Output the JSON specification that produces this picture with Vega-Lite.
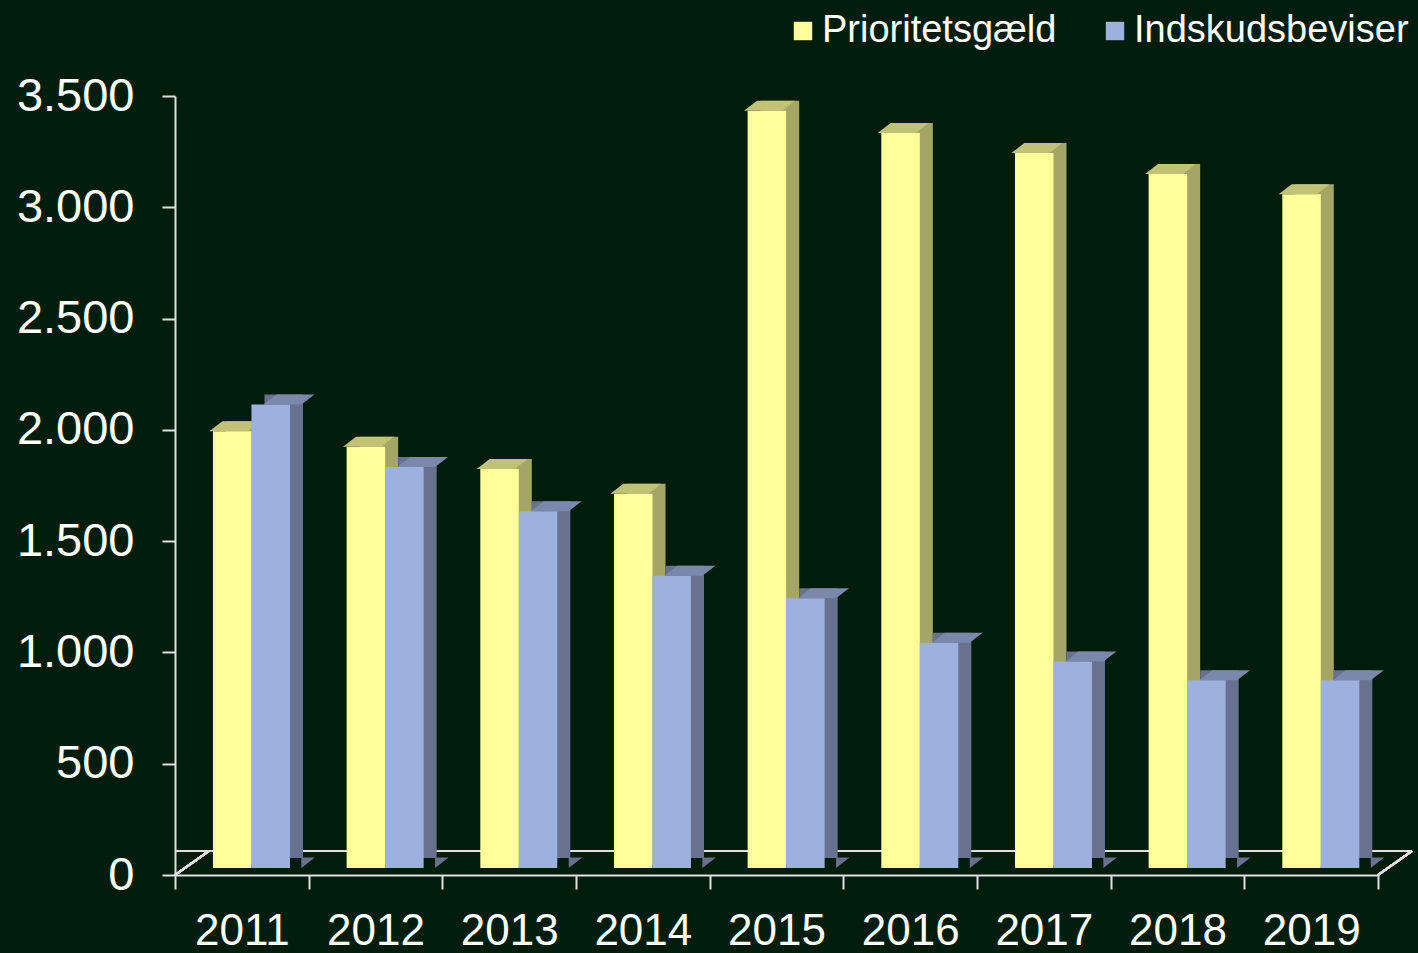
{
  "$schema": "https://vega.github.io/schema/vega-lite/v6.json",
  "width": 1203,
  "height": 779,
  "autosize": {"type": "none"},
  "padding": {"left": 175, "top": 96, "right": 40, "bottom": 78},
  "background": "#001d0b",
  "config": {
    "view": {"stroke": null},
    "font": "Liberation Sans"
  },
  "data": {
    "values": [
      {"year": "2011", "series": "Prioritetsgæld", "value": 1962},
      {"year": "2011", "series": "Indskudsbeviser", "value": 2082},
      {"year": "2012", "series": "Prioritetsgæld", "value": 1893},
      {"year": "2012", "series": "Indskudsbeviser", "value": 1802},
      {"year": "2013", "series": "Prioritetsgæld", "value": 1793},
      {"year": "2013", "series": "Indskudsbeviser", "value": 1603},
      {"year": "2014", "series": "Prioritetsgæld", "value": 1682},
      {"year": "2014", "series": "Indskudsbeviser", "value": 1313},
      {"year": "2015", "series": "Prioritetsgæld", "value": 3402},
      {"year": "2015", "series": "Indskudsbeviser", "value": 1212},
      {"year": "2016", "series": "Prioritetsgæld", "value": 3302},
      {"year": "2016", "series": "Indskudsbeviser", "value": 1012},
      {"year": "2017", "series": "Prioritetsgæld", "value": 3212},
      {"year": "2017", "series": "Indskudsbeviser", "value": 928},
      {"year": "2018", "series": "Prioritetsgæld", "value": 3118},
      {"year": "2018", "series": "Indskudsbeviser", "value": 843},
      {"year": "2019", "series": "Prioritetsgæld", "value": 3027},
      {"year": "2019", "series": "Indskudsbeviser", "value": 843}
    ]
  },
  "resolve": {"scale": {"xOffset": "independent"}},
  "encoding": {
    "x": {
      "field": "year", "type": "nominal",
      "scale": {"paddingInner": 0, "paddingOuter": 0},
      "axis": {
        "title": null, "labelAngle": 0, "labelFontSize": 44, "labelColor": "#ffffff",
        "labelPadding": 20, "domainColor": "#e0e0e0", "domainWidth": 2,
        "tickColor": "#e0e0e0", "tickWidth": 2, "tickSize": 14, "tickBand": "extent",
        "grid": false
      }
    },
    "y": {
      "field": "value", "type": "quantitative",
      "scale": {"domain": [0, 3500], "nice": false},
      "axis": {
        "title": null, "values": [0, 500, 1000, 1500, 2000, 2500, 3000, 3500],
        "labelExpr": "replace(format(datum.value, ','), ',', '.')",
        "labelFontSize": 47, "labelColor": "#ffffff", "labelPadding": 28,
        "domainColor": "#e0e0e0", "domainWidth": 2, "tickColor": "#e0e0e0",
        "tickWidth": 2, "tickSize": 13, "grid": false
      }
    }
  },
  "layer": [
    {
      "mark": {"type": "rule", "color": "#e0e0e0", "strokeWidth": 2, "xOffset": 34, "x2Offset": 34, "yOffset": -24},
      "encoding": {"x": null, "y": {"datum": 0, "type": "quantitative"}}
    },
    {
      "mark": {"type": "point", "shape": "M0,0L34,-24", "size": 4, "filled": false, "stroke": "#e0e0e0", "strokeWidth": 2, "opacity": 1},
      "encoding": {"x": {"datum": "2011", "bandPosition": 0}, "y": {"datum": 0, "type": "quantitative"}}
    },
    {
      "mark": {"type": "point", "shape": "M0,0L34,-24", "size": 4, "filled": false, "stroke": "#e0e0e0", "strokeWidth": 2, "opacity": 1},
      "encoding": {"x": {"datum": "2019", "bandPosition": 1}, "y": {"datum": 0, "type": "quantitative"}}
    },
    {
      "transform": [{"filter": "datum.series === 'Prioritetsgæld'"}],
      "mark": {"type": "bar", "color": "#a5a565", "yOffset": -17, "y2Offset": -17},
      "encoding": {
        "xOffset": {"field": "series", "scale": {"domain": ["Prioritetsgæld", "Indskudsbeviser"], "paddingInner": 0, "paddingOuter": 0.736, "align": 0.9}}
      }
    },
    {
      "transform": [{"filter": "datum.series === 'Prioritetsgæld'"}],
      "mark": {"type": "point", "shape": "M19,0L19,-10.5L32.5,-10.5Z", "size": 4, "filled": true, "color": "#a5a565", "opacity": 1, "yOffset": -7},
      "encoding": {
        "y": {"datum": 0, "type": "quantitative"},
        "xOffset": {"field": "series", "scale": {"domain": ["Prioritetsgæld", "Indskudsbeviser"], "paddingInner": 0, "paddingOuter": 0.736, "align": 0.67}}
      }
    },
    {
      "transform": [{"filter": "datum.series === 'Prioritetsgæld'"}],
      "mark": {"type": "bar", "yOffset": -7, "y2Offset": -7, "opacity": 1},
      "encoding": {
        "xOffset": {"field": "series", "scale": {"domain": ["Prioritetsgæld", "Indskudsbeviser"], "paddingInner": 0, "paddingOuter": 0.736, "align": 0.67}},
        "color": {
          "field": "series", "type": "nominal",
          "scale": {"domain": ["Prioritetsgæld", "Indskudsbeviser"], "range": ["#ffff99", "#9cb1de"]},
          "legend": {
            "title": null, "orient": "none", "legendX": 609, "legendY": -84,
            "direction": "horizontal", "symbolType": "square", "symbolSize": 340,
            "symbolStrokeWidth": 0, "symbolOpacity": 1, "labelLimit": 0,
            "labelFontSize": 38, "labelColor": "#ffffff", "labelOffset": 0,
            "columnPadding": 39, "padding": 0
          }
        }
      }
    },
    {
      "transform": [{"filter": "datum.series === 'Prioritetsgæld'"}],
      "mark": {"type": "point", "shape": "M-19,0L19,0L32,-10L-6,-10Z", "size": 4, "filled": true, "color": "#c2c274", "opacity": 1, "yOffset": -7},
      "encoding": {"xOffset": {"field": "series", "scale": {"domain": ["Prioritetsgæld", "Indskudsbeviser"], "paddingInner": 0, "paddingOuter": 0.736, "align": 0.67}}}
    },
    {
      "transform": [{"filter": "datum.series === 'Indskudsbeviser'"}],
      "mark": {"type": "bar", "color": "#68718f", "yOffset": -17, "y2Offset": -17},
      "encoding": {"xOffset": {"field": "series", "scale": {"domain": ["Prioritetsgæld", "Indskudsbeviser"], "paddingInner": 0, "paddingOuter": 0.736, "align": 0.9}}}
    },
    {
      "transform": [{"filter": "datum.series === 'Indskudsbeviser'"}],
      "mark": {"type": "point", "shape": "M19,0L19,-10.5L32.5,-10.5Z", "size": 4, "filled": true, "color": "#68718f", "opacity": 1, "yOffset": -7},
      "encoding": {
        "y": {"datum": 0, "type": "quantitative"},
        "xOffset": {"field": "series", "scale": {"domain": ["Prioritetsgæld", "Indskudsbeviser"], "paddingInner": 0, "paddingOuter": 0.736, "align": 0.67}}
      }
    },
    {
      "transform": [{"filter": "datum.series === 'Indskudsbeviser'"}],
      "mark": {"type": "bar", "yOffset": -7, "y2Offset": -7, "opacity": 1},
      "encoding": {"xOffset": {"field": "series", "scale": {"domain": ["Prioritetsgæld", "Indskudsbeviser"], "paddingInner": 0, "paddingOuter": 0.736, "align": 0.67}}, "color": {"field": "series", "type": "nominal"}}
    },
    {
      "transform": [{"filter": "datum.series === 'Indskudsbeviser'"}],
      "mark": {"type": "point", "shape": "M-19,0L19,0L32,-10L-6,-10Z", "size": 4, "filled": true, "color": "#7a88ab", "opacity": 1, "yOffset": -7},
      "encoding": {"xOffset": {"field": "series", "scale": {"domain": ["Prioritetsgæld", "Indskudsbeviser"], "paddingInner": 0, "paddingOuter": 0.736, "align": 0.67}}}
    }
  ]
}
